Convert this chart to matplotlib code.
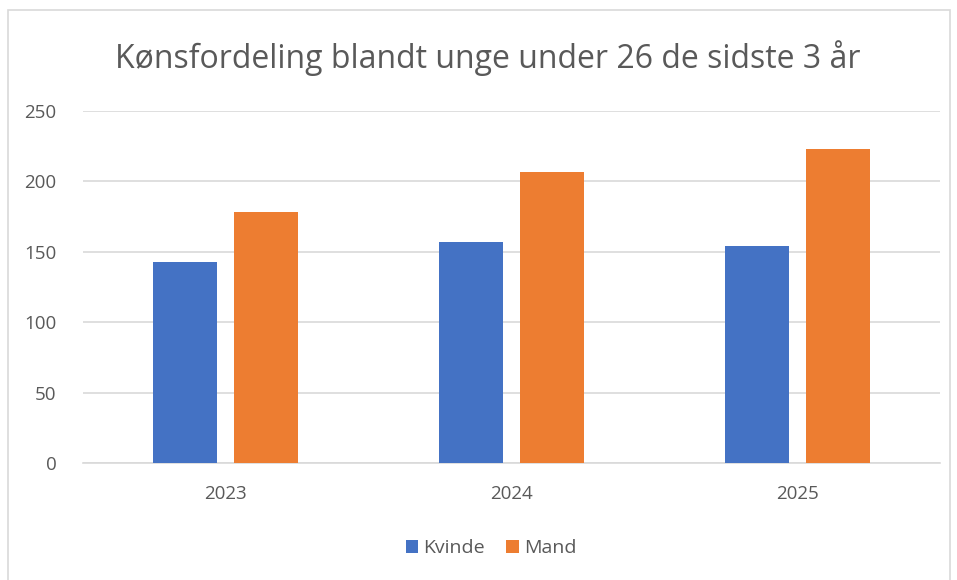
import matplotlib
matplotlib.use("Agg")
import matplotlib.pyplot as plt
import numpy as np
from matplotlib.patches import Rectangle

years = ["2023", "2024", "2025"]
kvinde = [143, 157, 154]
mand = [178, 207, 223]
series_names = ["Kvinde", "Mand"]
title = "Kønsfordeling blandt unge under 26 de sidste 3 år"
yticks = [0, 50, 100, 150, 200, 250]

plt.rcParams['font.family'] = ['Open Sans', 'DejaVu Sans']

W, H = 957, 580
fig = plt.figure(figsize=(W / 100, H / 100), dpi=100)

# chart border
fig.patches.append(Rectangle((8 / W, -0.1), (950 - 8) / W, 1.1 - 10 / H,
                             transform=fig.transFigure, fill=False,
                             edgecolor='#d9d9d9', linewidth=1.2))

ax = fig.add_axes([83 / W, 1 - 463 / H, (940 - 83) / W, (463 - 111) / H])
x = np.arange(len(years))
bw = 0.224
gap = 0.06
ax.bar(x - (bw + gap) / 2, kvinde, bw, color='#4472c4', label=series_names[0], zorder=3)
ax.bar(x + (bw + gap) / 2, mand, bw, color='#ed7d31', label=series_names[1], zorder=3)

ax.set_xlim(-0.5, 2.5)
ax.set_ylim(0, 250)
ax.set_yticks(yticks)
ax.set_yticklabels([str(t) for t in yticks])
ax.set_xticks(x)
ax.set_xticklabels(years)
ax.grid(axis='y', color='#d9d9d9', linewidth=1.2, zorder=0)
for s in ['top', 'right', 'left']:
    ax.spines[s].set_visible(False)
ax.spines['bottom'].set_color('#d9d9d9')
ax.spines['bottom'].set_linewidth(1.2)
ax.tick_params(axis='both', length=0, labelsize=13.5, colors='#595959')
ax.tick_params(axis='y', pad=19)
ax.tick_params(axis='x', pad=16)

fig.text(488 / W, 1 - 58 / H, title, ha='center', va='center',
         fontsize=23, color='#595959')

leg = ax.legend(loc='center', bbox_to_anchor=(491 / W, 1 - 548 / H),
                bbox_transform=fig.transFigure, ncol=2, frameon=False,
                fontsize=14, handlelength=0.65, handleheight=0.65,
                handletextpad=0.25, columnspacing=1.1)
for t in leg.get_texts():
    t.set_color('#595959')

fig.savefig('out.png', dpi=100)
